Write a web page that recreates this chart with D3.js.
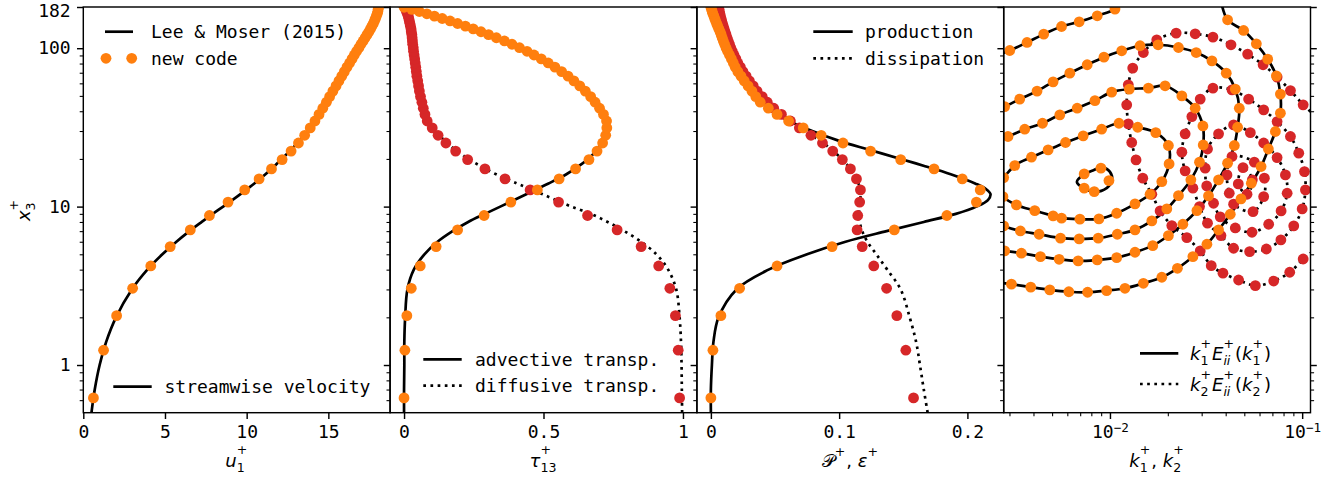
<!DOCTYPE html>
<html>
<head>
<meta charset="utf-8">
<script src="https://cdn.jsdelivr.net/npm/d3@7"></script>
<style>
  body { margin: 0; background: #fff; }
</style>
</head>
<body>
<svg id="fig" width="1338" height="477" font-family="DejaVu Sans Mono"></svg>
<script>
// ---------- profiles, new code (dots) ----------
const yPlus = [0.62, 1.24, 2.05, 3.05, 4.22, 5.59, 7.13, 8.79, 10.68, 12.75, 14.96, 17.3, 19.8, 22.4, 25.2, 28.2,
  31.4, 34.7, 38.2, 41.8, 45.6, 49.5, 53.6, 57.8, 62.2, 66.6, 71.2, 75.9, 80.7, 85.6, 90.6, 95.6, 100.7, 105.9,
  111.1, 116.4, 121.7, 127.0, 132.4, 137.8, 143.2, 148.6, 154.0, 159.4, 164.9, 170.4, 175.9, 181.4];
const uNew = [0.62, 1.24, 2.04, 3.02, 4.13, 5.32, 6.55, 7.72, 8.86, 9.88, 10.76, 11.52, 12.17, 12.72, 13.17, 13.55,
  13.89, 14.18, 14.43, 14.66, 14.88, 15.08, 15.28, 15.47, 15.65, 15.82, 15.98, 16.14, 16.30, 16.45, 16.59, 16.73,
  16.87, 17.00, 17.13, 17.25, 17.37, 17.48, 17.58, 17.67, 17.75, 17.82, 17.88, 17.94, 17.99, 18.03, 18.05, 18.07];
const tauAdvNew = [0.000, 0.003, 0.010, 0.026, 0.058, 0.115, 0.192, 0.287, 0.383, 0.478, 0.556, 0.615, 0.663, 0.692,
  0.712, 0.723, 0.727, 0.726, 0.715, 0.701, 0.685, 0.669, 0.650, 0.630, 0.609, 0.588, 0.565, 0.541, 0.517, 0.492,
  0.466, 0.441, 0.414, 0.387, 0.360, 0.331, 0.303, 0.276, 0.248, 0.220, 0.192, 0.165, 0.137, 0.109, 0.082, 0.055,
  0.028, 0.000];
const tauDiffNew = [0.988, 0.983, 0.973, 0.953, 0.913, 0.850, 0.764, 0.658, 0.554, 0.452, 0.362, 0.290, 0.228, 0.185,
  0.150, 0.122, 0.101, 0.083, 0.075, 0.069, 0.064, 0.059, 0.055, 0.052, 0.049, 0.046, 0.044, 0.042, 0.040, 0.038,
  0.036, 0.034, 0.033, 0.031, 0.030, 0.029, 0.028, 0.026, 0.025, 0.023, 0.021, 0.019, 0.017, 0.015, 0.012, 0.009,
  0.006, 0.003];
const prodNew = [0.000, 0.0016, 0.0078, 0.0224, 0.0516, 0.0945, 0.143, 0.184, 0.207, 0.210, 0.196, 0.174, 0.148,
  0.1245, 0.103, 0.086, 0.072, 0.0606, 0.0516, 0.0448, 0.0385, 0.035, 0.032, 0.029, 0.026, 0.0235, 0.021, 0.019,
  0.0175, 0.016, 0.0145, 0.013, 0.0118, 0.0107, 0.0097, 0.0088, 0.008, 0.0072, 0.0062, 0.0053, 0.0045, 0.0037,
  0.003, 0.0023, 0.0016, 0.001, 0.0005, 0.0];
const dissNew = [0.158, 0.152, 0.145, 0.137, 0.127, 0.118, 0.114, 0.1145, 0.116, 0.1166, 0.1135, 0.1088, 0.1025,
  0.095, 0.087, 0.078, 0.069, 0.062, 0.055, 0.049, 0.044, 0.040, 0.036, 0.033, 0.030, 0.0275, 0.025, 0.023, 0.021,
  0.0195, 0.018, 0.0167, 0.0155, 0.0145, 0.0135, 0.0126, 0.0118, 0.011, 0.0103, 0.0096, 0.009, 0.0084, 0.0079,
  0.0074, 0.007, 0.0066, 0.0063, 0.006];

// ---------- profiles, Lee & Moser (lines) ----------
const yRef = [0.5, 0.7, 1, 1.4, 2, 3, 4, 5, 6, 7, 8, 9, 10, 11, 12, 13, 14, 16, 18, 20, 23, 26, 30, 35, 40, 50, 60,
  70, 80, 100, 120, 140, 160, 182];
const uRef = [0.5, 0.7, 1.0, 1.4, 2.0, 2.97, 3.92, 4.84, 5.7, 6.5, 7.25, 7.93, 8.56, 9.12, 9.62, 10.06, 10.47, 11.15,
  11.7, 12.15, 12.75, 13.22, 13.72, 14.19, 14.54, 15.1, 15.55, 15.93, 16.27, 16.83, 17.28, 17.64, 17.93, 18.07];
const tauAdvRef = [0, 0, 0.001, 0.001, 0.004, 0.012, 0.035, 0.073, 0.12, 0.174, 0.23, 0.29, 0.345, 0.395, 0.44, 0.48,
  0.518, 0.582, 0.626, 0.66, 0.694, 0.711, 0.72, 0.72, 0.707, 0.667, 0.62, 0.571, 0.52, 0.418, 0.313, 0.209, 0.107, 0];
const tauDiffRef = [0.997, 0.996, 0.995, 0.993, 0.988, 0.976, 0.947, 0.905, 0.85, 0.79, 0.73, 0.67, 0.60, 0.545,
  0.495, 0.45, 0.405, 0.33, 0.275, 0.23, 0.18, 0.146, 0.115, 0.088, 0.073, 0.058, 0.05, 0.044, 0.04, 0.033, 0.028,
  0.022, 0.014, 0.0];
const prodRef = [0, 0, 0.0008, 0.002, 0.006, 0.02, 0.045, 0.075, 0.105, 0.137, 0.166, 0.191, 0.207, 0.216, 0.218,
  0.214, 0.206, 0.187, 0.167, 0.148, 0.122, 0.1, 0.079, 0.06, 0.048, 0.036, 0.028, 0.022, 0.018, 0.012, 0.008,
  0.005, 0.0023, 0];
const dissRef = [0.169, 0.166, 0.163, 0.160, 0.155, 0.148, 0.1375, 0.129, 0.122, 0.118, 0.116, 0.1155, 0.116, 0.1165,
  0.1168, 0.1165, 0.115, 0.111, 0.107, 0.102, 0.094, 0.085, 0.073, 0.062, 0.052, 0.040, 0.032, 0.026, 0.022, 0.016,
  0.012, 0.0095, 0.0075, 0.006];

// ---------- spectra contours [k, y+] ----------
// k1 spectra (solid, orange)
const k1LevelA = [[0.002543, 89.5], [0.00301, 96.7], [0.003703, 108.7], [0.004524, 122.7], [0.005598, 137.1],
  [0.006915, 146.8], [0.008586, 160.2], [0.010619, 176.6], [0.01197, 202.2]];
const k1LevelB = [[0.03771, 202.2], [0.04092, 151.1], [0.04959, 129.4], [0.05776, 106.6], [0.06615, 85.3],
  [0.07343, 66.9], [0.07705, 51.3], [0.07705, 38.9], [0.07256, 29.8], [0.06671, 23.1], [0.06112, 17.9],
  [0.05439, 14.05], [0.04806, 11.18], [0.04227, 8.95], [0.03673, 7.13], [0.03195, 5.79], [0.02701, 4.83],
  [0.02244, 4.08], [0.01861, 3.58], [0.01492, 3.28], [0.01197, 3.05], [0.009612, 2.95], [0.00765, 2.88],
  [0.00611, 2.90], [0.004864, 2.98], [0.003872, 3.10], [0.003071, 3.24], [0.002543, 3.32]];
const k1Level2 = [[0.002543, 40.8], [0.002833, 42.8], [0.003393, 47.7], [0.004175, 53.6], [0.00506, 61.3],
  [0.006184, 69.6], [0.007613, 78.6], [0.009304, 87.8], [0.01151, 96.3], [0.01434, 103.6], [0.0178, 105.1],
  [0.02272, 101.0], [0.0281, 93.9], [0.03393, 83.2], [0.04028, 69.6], [0.04488, 55.2], [0.04709, 41.8],
  [0.04615, 31.7], [0.04436, 24.3], [0.04092, 18.8], [0.03673, 14.75], [0.03256, 11.68], [0.02834, 9.44],
  [0.02395, 7.74], [0.02014, 6.56], [0.0167, 5.67], [0.0135, 5.15], [0.01084, 4.76], [0.008586, 4.61],
  [0.006832, 4.54], [0.005438, 4.65], [0.004349, 4.83], [0.003462, 5.08], [0.002833, 5.25], [0.002543, 5.33]];
const k1Level3 = [[0.002543, 26.4], [0.002948, 27.7], [0.003602, 30.8], [0.004456, 33.6], [0.005484, 37.96],
  [0.006751, 41.8], [0.008353, 46.7], [0.010207, 52.8], [0.01261, 55.2], [0.01585, 56.0], [0.01936, 57.9],
  [0.02366, 50.0], [0.02776, 41.8], [0.03045, 32.3], [0.03056, 24.5], [0.02923, 19.08], [0.02636, 14.75],
  [0.02272, 11.73], [0.01976, 9.67], [0.01651, 8.12], [0.0135, 7.13], [0.01092, 6.69], [0.00869, 6.32],
  [0.006915, 6.25], [0.00553, 6.32], [0.004277, 6.69], [0.003421, 7.02], [0.002799, 7.55], [0.002543, 8.01]];
const k1Level4 = [[0.002799, 15.25], [0.003195, 18.16], [0.003904, 20.5], [0.004767, 22.8], [0.005873, 25.4],
  [0.007256, 27.97], [0.009051, 30.8], [0.01114, 33.6], [0.01394, 31.7], [0.01731, 29.3], [0.02014, 24.3],
  [0.02031, 18.6], [0.01861, 14.38], [0.01617, 11.97], [0.0135, 10.4], [0.01084, 9.08], [0.008762, 8.36],
  [0.006975, 8.33], [0.005598, 8.45], [0.00506, 8.74], [0.004062, 9.44], [0.003261, 10.25], [0.002775, 11.56],
  [0.002543, 13.51]];
const k1Level5Line = [[0.006727, 14.32], [0.007317, 15.97], [0.008153, 16.93], [0.009083, 17.69], [0.01, 16.57],
  [0.01024, 14.64], [0.009647, 13.13], [0.008353, 12.38], [0.007317, 13.03]];
const k1Level5Dots = [[0.007343, 16.09], [0.008976, 17.48], [0.00988, 14.6], [0.008283, 12.44], [0.007343, 13.07]];

// k2 spectra (dotted, red), all closed
const k2Level1 = [[0.01752, 113.0], [0.01492, 93.9], [0.013135, 74.9], [0.012455, 58.7], [0.012222, 43.9],
  [0.012455, 33.3], [0.012978, 25.4], [0.013667, 19.72], [0.014813, 15.12], [0.01651, 11.97], [0.018236, 9.39],
  [0.02098, 7.59], [0.025124, 6.37], [0.02948, 5.25], [0.03365, 4.24], [0.03872, 3.80], [0.0467, 3.44],
  [0.05707, 3.17], [0.07109, 3.39], [0.08617, 3.85], [0.1012, 4.67], [0.1216, 5.81], [0.1372, 14.11],
  [0.1216, 34.3], [0.1012, 43.9], [0.0869, 54.0], [0.07406, 65.7], [0.06261, 78.6], [0.05203, 91.8],
  [0.04263, 105.1], [0.03434, 117.5], [0.02776, 123.3], [0.0221, 124.6]];
const k2Level2 = [[0.024614, 28.8], [0.02668, 37.0], [0.02948, 47.7], [0.03434, 56.0], [0.04314, 54.6],
  [0.05265, 47.7], [0.06306, 40.8], [0.07406, 34.4], [0.0869, 27.7], [0.096, 21.75], [0.1028, 16.64],
  [0.104, 12.75], [0.1, 9.67], [0.09041, 7.55], [0.0775, 6.16], [0.06513, 5.40], [0.05329, 5.20], [0.04398, 5.46],
  [0.0378, 6.56], [0.03218, 7.86], [0.02923, 10.0], [0.02701, 13.07], [0.024614, 16.81], [0.02366, 22.07]];
const k2Level3 = [[0.03218, 23.1], [0.03673, 28.8], [0.04398, 32.8], [0.05374, 29.3], [0.06306, 25.2],
  [0.07406, 20.4], [0.08183, 15.86], [0.08352, 12.15], [0.07769, 9.39], [0.06695, 7.74], [0.05484, 6.89],
  [0.04488, 7.33], [0.03748, 8.61], [0.03459, 10.5], [0.03187, 13.51], [0.0313, 17.48]];
const k2Level4 = [[0.04314, 20.7], [0.05638, 19.08], [0.06359, 15.12], [0.06306, 11.56], [0.0555, 9.30],
  [0.04398, 10.36], [0.04176, 12.15], [0.04062, 15.86]];
const k2Level5 = [[0.04923, 17.64], [0.05504, 14.75], [0.05166, 11.97], [0.04653, 13.91]];

// ---------- ticks ----------
const yMajor = [1, 10, 100, 182];
const yMinor = [0.6, 0.7, 0.8, 0.9, 2, 3, 4, 5, 6, 7, 8, 9, 20, 30, 40, 50, 60, 70, 80, 90];
const xTicks = [[0, 5, 10, 15], [0, 0.5, 1], [0, 0.1, 0.2], [0.01, 0.1]];
const kMinor = [0.003, 0.004, 0.005, 0.006, 0.007, 0.008, 0.009, 0.02, 0.03, 0.04, 0.05, 0.06, 0.07, 0.08, 0.09];

// ---------- layout ----------
const svg = d3.select("#fig");
const plotTop = 7, plotBottom = 412.7, pw = 306.8;
const lefts = [83.3, 390.1, 696.9, 1003.7];
const ORANGE = "#ff7f0e", RED = "#d62728";
const FS = 18, LW = 2.7, R = 5.4;
const MONO = "DejaVu Sans Mono", MATH = "DejaVu Sans";

svg.append("rect").attr("width", 1338).attr("height", 477).attr("fill", "#fff");

const y = d3.scaleLog().domain([0.5, 182]).range([plotBottom, plotTop]);
const xs = [
  d3.scaleLinear().domain([0, 18.78]),
  d3.scaleLinear().domain([-0.05, 1.05]),
  d3.scaleLinear().domain([-0.0109, 0.2283]),
  d3.scaleLog().domain([0.0028, 0.1105])
].map((s, i) => s.range([lefts[i], lefts[i] + pw]));

const defs = svg.append("defs");
lefts.forEach((l, i) => defs.append("clipPath").attr("id", "clip" + i)
  .append("rect").attr("x", l).attr("y", plotTop).attr("width", pw).attr("height", plotBottom - plotTop));
const panels = lefts.map((l, i) => svg.append("g").attr("clip-path", `url(#clip${i})`));

function drawLine(g, sx, pts, dotted, closed) {
  const gen = d3.line().x(d => sx(d[0])).y(d => y(d[1]))
    .curve(closed ? d3.curveCatmullRomClosed.alpha(0.5) : d3.curveCatmullRom.alpha(0.5));
  g.append("path").datum(pts).attr("d", gen)
    .attr("fill", "none").attr("stroke", "#000").attr("stroke-width", LW)
    .attr("stroke-linejoin", "round")
    .attr("stroke-dasharray", dotted ? "2.7,4.46" : null);
}
function drawDots(g, sx, pts, color) {
  g.append("g").selectAll("circle").data(pts).join("circle")
    .attr("cx", d => sx(d[0])).attr("cy", d => y(d[1])).attr("r", R).attr("fill", color);
}

// panel 1: mean velocity
drawLine(panels[0], xs[0], d3.zip(uRef, yRef), false, false);
drawDots(panels[0], xs[0], d3.zip(uNew, yPlus), ORANGE);

// panel 2: shear stress
drawLine(panels[1], xs[1], d3.zip(tauAdvRef, yRef), false, false);
drawLine(panels[1], xs[1], d3.zip(tauDiffRef, yRef), true, false);
drawDots(panels[1], xs[1], d3.zip(tauDiffNew, yPlus), RED);
drawDots(panels[1], xs[1], d3.zip(tauAdvNew, yPlus), ORANGE);

// panel 3: production / dissipation
drawLine(panels[2], xs[2], d3.zip(prodRef, yRef), false, false);
drawLine(panels[2], xs[2], d3.zip(dissRef, yRef), true, false);
drawDots(panels[2], xs[2], d3.zip(dissNew, yPlus), RED);
drawDots(panels[2], xs[2], d3.zip(prodNew, yPlus), ORANGE);

// panel 4: spectra
const k1Open = [k1LevelA, k1LevelB, k1Level2, k1Level3];
const k1Closed = [k1Level4, k1Level5Line];
const k2Closed = [k2Level1, k2Level2, k2Level3, k2Level4, k2Level5];
k1Open.forEach(c => drawLine(panels[3], xs[3], c, false, false));
k1Closed.forEach(c => drawLine(panels[3], xs[3], c, false, true));
k2Closed.forEach(c => drawLine(panels[3], xs[3], c, true, true));
k2Closed.forEach(c => drawDots(panels[3], xs[3], c, RED));
[k1LevelA, k1LevelB, k1Level2, k1Level3, k1Level4, k1Level5Dots].forEach(c => drawDots(panels[3], xs[3], c, ORANGE));

// ---------- axes ----------
function styleAxis(ax, major) {
  ax.attr("font-family", MONO).attr("font-size", FS);
  ax.select(".domain").remove();
  ax.selectAll(".tick line").attr("stroke-width", major ? 1.44 : 1.08);
}
lefts.forEach((l, i) => {
  const yl = svg.append("g").attr("transform", `translate(${l},0)`)
    .call(d3.axisLeft(y).tickValues(yMajor).tickSize(6.3).tickPadding(6.3)
      .tickFormat(i === 0 ? d3.format("d") : () => ""));
  styleAxis(yl, true);
  // the top label sits a little below its tick, as in the original
  yl.selectAll(".tick text").filter(d => d === 182).attr("dy", "0.54em");
  styleAxis(svg.append("g").attr("transform", `translate(${l},0)`)
    .call(d3.axisLeft(y).tickValues(yMinor).tickSize(3.6).tickFormat(() => "")), false);

  const xa = svg.append("g").attr("transform", `translate(0,${plotBottom})`)
    .call(d3.axisBottom(xs[i]).tickValues(xTicks[i]).tickSize(6.3).tickPadding(6.3)
      .tickFormat(i === 0 ? d3.format("d") : d => String(d)));
  styleAxis(xa, true);
  if (i === 3) {
    xa.selectAll(".tick text").each(function (d) {
      const e = Math.round(Math.log10(d));
      const t = d3.select(this).text(null);
      t.append("tspan").text("10");
      t.append("tspan").attr("font-size", FS * 0.7).attr("dy", -6).text("\u2212" + Math.abs(e));
    });
    styleAxis(svg.append("g").attr("transform", `translate(0,${plotBottom})`)
      .call(d3.axisBottom(xs[3]).tickValues(kMinor).tickSize(3.6).tickFormat(() => "")), false);
    const yr = svg.append("g").attr("transform", `translate(${l + pw},0)`)
      .call(d3.axisRight(y).tickValues(yMajor).tickSize(6.3).tickFormat(() => ""));
    styleAxis(yr, true);
    styleAxis(svg.append("g").attr("transform", `translate(${l + pw},0)`)
      .call(d3.axisRight(y).tickValues(yMinor).tickSize(3.6).tickFormat(() => "")), false);
  }
  svg.append("rect").attr("x", l).attr("y", plotTop).attr("width", pw).attr("height", plotBottom - plotTop)
    .attr("fill", "none").attr("stroke", "#000").attr("stroke-width", 1.44);
});

// ---------- math-style labels ----------
function math(g, parts, anchor) {
  const inner = g.append("g");
  let x = 0;
  const s = FS * 0.7;
  parts.forEach(p => {
    if (p.t !== undefined) {
      const t = inner.append("text").attr("x", x).attr("font-size", FS)
        .style("font-family", MATH).style("font-style", p.it ? "italic" : "normal")
        .style("white-space", "pre").text(p.t);
      x += t.node().getComputedTextLength();
    } else {
      let w = 0;
      if (p.sub) {
        const t = inner.append("text").attr("x", x).attr("y", p.sup ? FS * 0.28 : FS * 0.2).attr("font-size", s)
          .style("font-family", MATH).style("font-style", p.subIt ? "italic" : "normal").text(p.sub);
        w = Math.max(w, t.node().getComputedTextLength());
      }
      if (p.sup) {
        const t = inner.append("text").attr("x", x).attr("y", p.sub ? -FS * 0.69 : -FS * 0.61).attr("font-size", s)
          .style("font-family", MATH).text(p.sup);
        w = Math.max(w, t.node().getComputedTextLength());
      }
      x += w + 1;
    }
  });
  if (anchor === "middle") inner.attr("transform", `translate(${-x / 2},0)`);
  return x;
}
const xLabels = [
  [{ t: "u", it: true }, { sub: "1", sup: "+" }],
  [{ t: "\u03c4", it: true }, { sub: "13", sup: "+" }],
  [{ t: "\ud835\udcab" }, { sup: "+" }, { t: ",\u00a0" }, { t: "\u03b5", it: true }, { sup: "+" }],
  [{ t: "k", it: true }, { sub: "1", sup: "+" }, { t: ",\u00a0" }, { t: "k", it: true }, { sub: "2", sup: "+" }]
];
xLabels.forEach((parts, i) => math(svg.append("g").attr("transform", `translate(${lefts[i] + pw / 2},466.5)`), parts, "middle"));
math(svg.append("g").attr("transform", "translate(30,210) rotate(-90)"), [{ t: "x", it: true }, { sub: "3", sup: "+" }], "middle");

// ---------- legends ----------
function legLine(x0, x1, yy, dotted) {
  svg.append("line").attr("x1", x0).attr("x2", x1).attr("y1", yy).attr("y2", yy)
    .attr("stroke", "#000").attr("stroke-width", LW).attr("stroke-dasharray", dotted ? "2.7,4.46" : null);
}
function legText(x, yy, s) {
  svg.append("text").attr("x", x).attr("y", yy).attr("font-size", FS).text(s);
}
// panel 1 top
legLine(105, 133, 31.7, false);
legText(151, 38.1, "Lee & Moser (2015)");
[106, 131.7].forEach(cx => svg.append("circle").attr("cx", cx).attr("cy", 58.3).attr("r", R).attr("fill", ORANGE));
legText(151, 64.7, "new code");
// panel 1 bottom
legLine(113.3, 151.7, 386.7, false);
legText(164.5, 393.3, "streamwise velocity");
// panel 2
legLine(423.3, 461.7, 359.3, false);
legText(475, 366, "advective transp.");
legLine(423.3, 461.7, 385.7, true);
legText(475, 392.4, "diffusive transp.");
// panel 3
legLine(813.3, 852.7, 31.7, false);
legText(865, 38.1, "production");
legLine(813.3, 852.7, 58.3, true);
legText(865, 64.7, "dissipation");
// panel 4
const specLeg = n => [{ t: "k", it: true }, { sub: n, sup: "+" }, { t: "E", it: true }, { sub: "ii", subIt: true, sup: "+" },
  { t: "(" }, { t: "k", it: true }, { sub: n, sup: "+" }, { t: ")" }];
legLine(1140, 1178.3, 353.3, false);
math(svg.append("g").attr("transform", "translate(1190,360.3)"), specLeg("1"), "start");
legLine(1140, 1178.3, 384, true);
math(svg.append("g").attr("transform", "translate(1190,391)"), specLeg("2"), "start");
</script>
</body>
</html>
